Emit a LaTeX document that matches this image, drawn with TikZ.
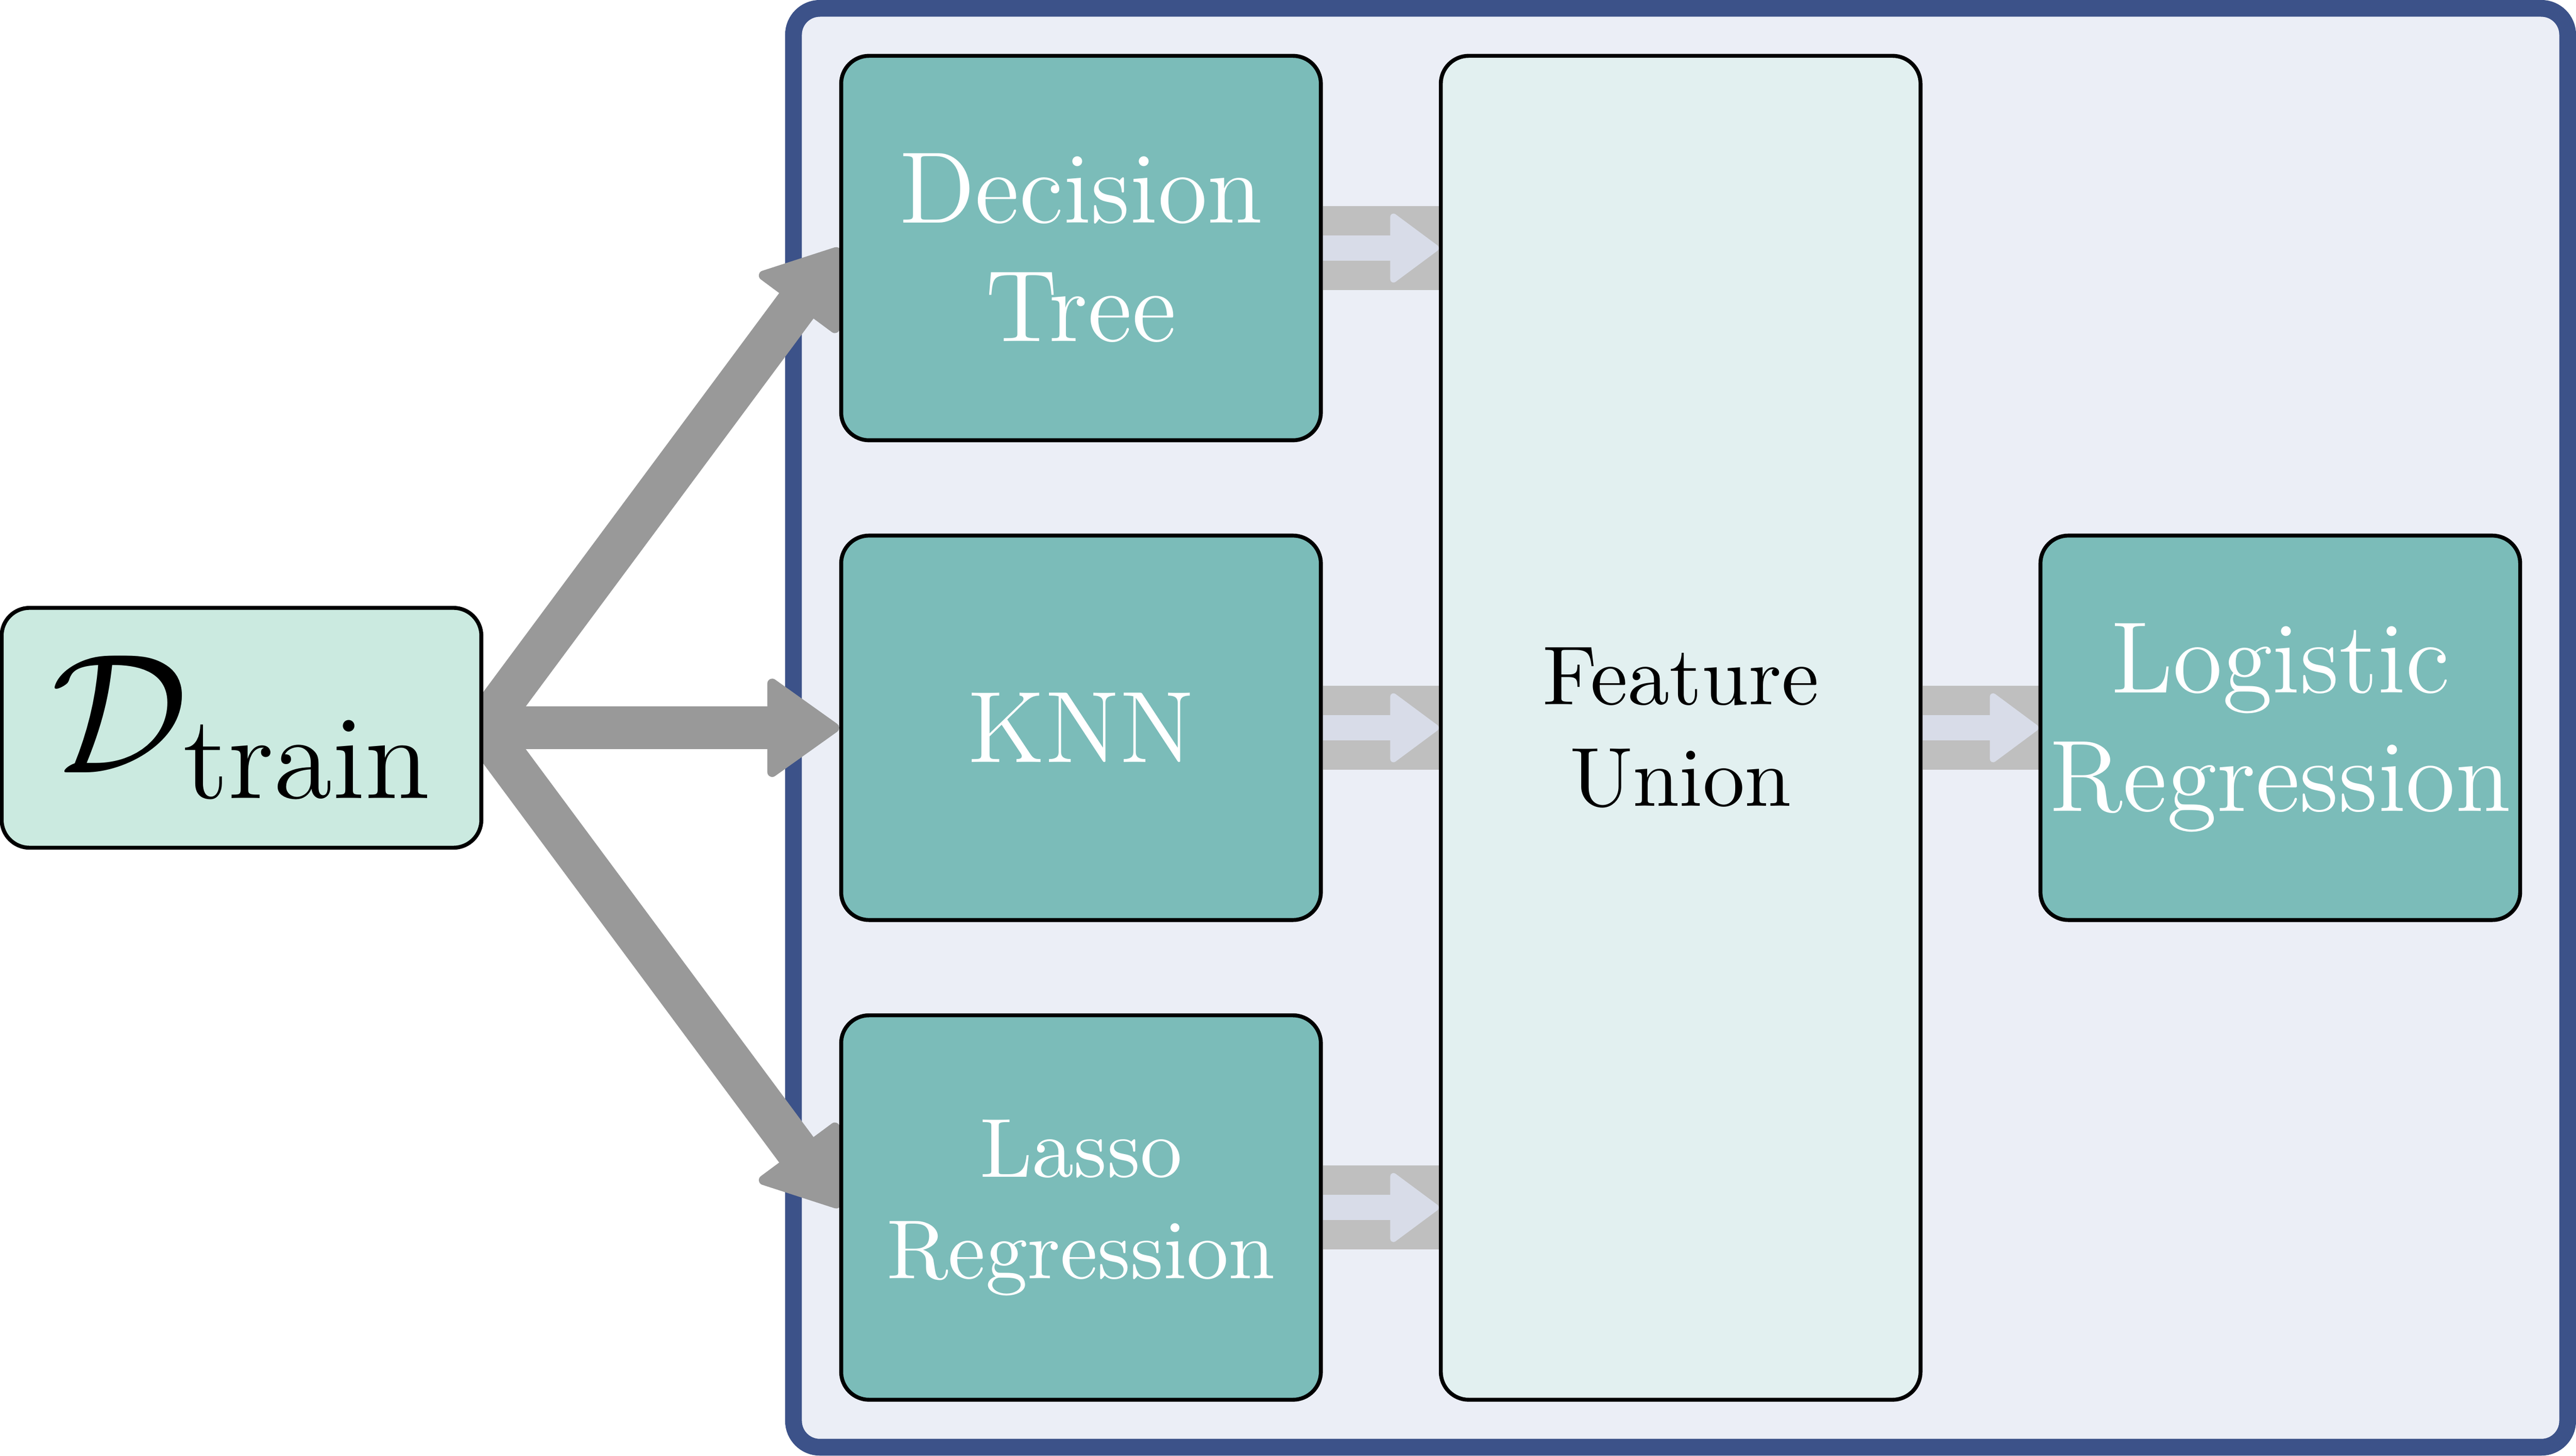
\RequirePackage{fix-cm}
\documentclass[tikz,border=0pt]{standalone}
\usepackage{fontspec}
\newfontfamily\lmten{lmroman10-regular.otf}
\newfontfamily\lmtwelve{lmroman12-regular.otf}
\usetikzlibrary{arrows.meta}
\definecolor{teal1}{HTML}{7BBCB9}
\definecolor{mint}{HTML}{CBEAE0}
\definecolor{fuf}{HTML}{E2F0F0}
\definecolor{outfill}{HTML}{EBEEF6}
\definecolor{outdraw}{HTML}{3C5289}
\definecolor{arrgray}{HTML}{999999}
\definecolor{bandgray}{HTML}{BFBFBF}
\definecolor{lightarr}{HTML}{D8DCE8}
\pgfdeclarelayer{bg}
\pgfdeclarelayer{mid}
\pgfsetlayers{bg,mid,main}
\begin{document}
\begin{tikzpicture}[x=0.5pt,y=-0.5pt,
  box/.style={draw=black, line width=1.2pt, rounded corners=8.5pt, align=center, inner sep=0pt},
  model/.style={box, fill=teal1, text=white, minimum width=146pt, minimum height=117pt},
  bigfont/.style={font=\lmtwelve\fontsize{30.9}{36}\selectfont},
  smallfont/.style={font=\lmten\fontsize{25.5}{30.9}\selectfont},
  bigarrow/.style={draw=arrgray, line width=13pt, -{Triangle[length=23pt,width=32pt,line width=3pt,round]}},
  band/.style={draw=bandgray, line width=25.5pt},
  flowarrow/.style={draw=lightarr, line width=7.75pt, -{Triangle[length=15.5pt,width=22.5pt,line width=2pt,round]}}
]
\useasboundingbox (0,0) rectangle (1568,886);
\begin{pgfonlayer}{bg}
\node[draw=outdraw, fill=outfill, line width=5.1pt, rounded corners=8pt, minimum width=539.95pt, minimum height=437.9pt, inner sep=0pt] (outer) at (1022.95,443) {};
\end{pgfonlayer}
\node[box, fill=mint, minimum width=146pt, minimum height=73pt, font=\fontsize{52}{60}\selectfont] (dtrain) at (147,443) {$\mathcal{D}_{\mbox{\lmtwelve\fontsize{36.4}{40}\selectfont train}}$};
\node[model, bigfont] (dt) at (658,151) {Decision\\Tree};
\node[model, bigfont] (knn) at (658,443) {KNN};
\node[model, smallfont] (lasso) at (658,735) {Lasso\\Regression};
\node[box, fill=fuf, minimum width=146pt, minimum height=409pt, smallfont] (fu) at (1023,443) {Feature\\Union};
\node[model, bigfont] (lr) at (1388,443) {Logistic\\Regression};
\begin{pgfonlayer}{mid}
\draw[bigarrow] (dtrain.east) -- (dt.west);
\draw[bigarrow] (dtrain.east) -- (knn.west);
\draw[bigarrow] (dtrain.east) -- (lasso.west);
\foreach \m in {dt,knn,lasso}{
  \draw[band] (\m.east) -- (\m.east -| fu.west);
  \draw[flowarrow] (\m.east) -- (\m.east -| fu.west);
}
\draw[band] (fu.east) -- (lr.west);
\draw[flowarrow] (fu.east) -- (lr.west);
\end{pgfonlayer}
\end{tikzpicture}
\end{document}
